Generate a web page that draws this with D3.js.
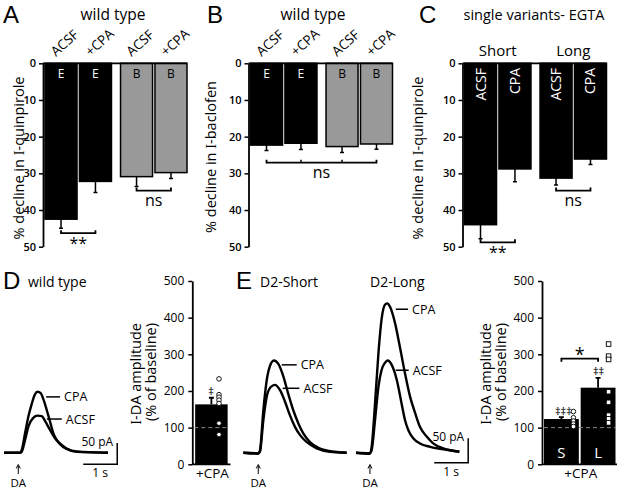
<!DOCTYPE html>
<html>
<head>
<meta charset="utf-8">
<script src="https://cdn.jsdelivr.net/npm/d3@7/dist/d3.min.js"></script>
<style>
body { margin: 0; background: #fff; }
svg { display: block; font-family: "Open Sans", sans-serif; }
</style>
</head>
<body>
<svg id="fig" width="617" height="490"></svg>
<script>
// ---- top row: % decline (A, B, C)
const declineTicks = [0, 10, 20, 30, 40, 50]
const wtLabels = ['ACSF', '+CPA', 'ACSF', '+CPA']
const wtCells = ['E', 'E', 'B', 'B']
const quinpiroleWT = [42.5, 32.2, 30.9, 29.8]
const quinpiroleWTErr = [2.5, 3.0, 2.7, 1.6]
const baclofenWT = [22.3, 21.8, 22.7, 22.0]
const baclofenWTErr = [1.5, 1.7, 1.6, 1.4]
const egtaGroups = ['Short', 'Long']
const egtaLabels = ['ACSF', 'CPA', 'ACSF', 'CPA']
const quinpiroleEGTA = [44.0, 28.8, 31.3, 26.1]
const quinpiroleEGTAErr = [3.8, 3.5, 1.9, 1.5]

// ---- bottom row: I-DA traces, [time s, current pA]
const daOnset = [0.42, 0.44, 0.41]
const wtCPA = [[0, 0], [0.47, 0], [0.52, 6], [0.62, 46], [0.72, 86], [0.81, 113], [0.91, 137], [0.99, 143], [1.08, 140], [1.16, 125], [1.25, 102], [1.35, 74], [1.45, 46], [1.55, 30], [1.70, 16], [1.84, 9], [2.14, 2], [3.06, 0]]
const wtACSF = [[0, 0], [0.47, 0], [0.52, 2], [0.62, 30], [0.72, 62], [0.86, 82], [0.99, 87], [1.11, 86], [1.21, 74], [1.35, 54], [1.50, 34], [1.65, 21], [1.84, 10], [2.14, 3], [3.06, 0]]
const shortCPA = [[0, 0], [0.44, -2], [0.49, 5], [0.59, 87], [0.69, 149], [0.78, 177], [0.90, 189], [1.03, 182], [1.18, 156], [1.32, 121], [1.47, 87], [1.62, 60], [1.76, 40], [1.96, 22], [2.21, 10], [2.55, 3], [3.04, 0]]
const shortACSF = [[0, 0], [0.44, -1], [0.49, 2], [0.59, 67], [0.69, 115], [0.80, 134], [0.93, 139], [1.08, 128], [1.23, 104], [1.37, 77], [1.52, 53], [1.67, 36], [1.86, 22], [2.16, 9], [2.55, 2], [3.04, 0]]
const longCPA = [[0, 0], [0.41, -2], [0.46, 12], [0.56, 101], [0.66, 204], [0.75, 272], [0.85, 303], [0.92, 306], [1.00, 299], [1.15, 265], [1.29, 217], [1.44, 163], [1.59, 115], [1.74, 81], [1.88, 53], [2.08, 33], [2.27, 19], [2.57, 9], [3.04, 2]]
const longACSF = [[0, 0], [0.41, -1], [0.46, 5], [0.56, 67], [0.66, 135], [0.75, 169], [0.85, 184], [0.93, 189], [1.05, 180], [1.20, 149], [1.34, 101], [1.44, 67], [1.54, 46], [1.69, 29], [1.88, 19], [2.18, 12], [2.57, 7], [3.04, 2]]

// ---- bottom row: amplitude bars (% of baseline)
const ampTicks = [0, 100, 200, 300, 400, 500]
const wtAmp = [163.5]
const wtAmpErr = [18]
const wtAmpPts = [233, 190, 183, 175, 166, 112, 81]
const variantNames = ['S', 'L']
const variantAmp = [123.5, 209]
const variantAmpErr = [5, 27]
const shortAmpPts = [144, 127, 118, 110, 103]
const longAmpPts = [328, 295, 286, 198, 169, 134, 124, 113]

const svg = d3.select('#fig')

function txt(g, x, y, s, size, opts = {}) {
	const t = g.append('text')
		.attr('x', x).attr('y', y)
		.attr('font-size', size)
		.attr('text-anchor', opts.anchor || 'start')
		.attr('font-weight', opts.weight || 'normal')
		.attr('fill', opts.fill || '#000')
		.text(s)
	if (opts.family) t.attr('font-family', opts.family)
	return t
}

function styleAxis(ax, size, weight) {
	ax.select('.domain').attr('stroke-width', 1.8)
	ax.selectAll('.tick line').attr('stroke-width', 1.5)
	ax.selectAll('.tick text')
		.attr('font-size', size)
		.attr('font-weight', weight)
		.attr('font-family', '"Open Sans", sans-serif')
}

// y label with a serif "I"
function yLabel(g, x, y, pre, post, size, anchor) {
	const t = g.append('text')
		.attr('transform', `translate(${x},${y}) rotate(-90)`)
		.attr('text-anchor', anchor)
		.attr('font-size', size)
	t.append('tspan').text(pre)
	t.append('tspan').attr('font-family', '"Liberation Serif", serif').text('I')
	t.append('tspan').text(post)
}

function bracket(g, x1, x2, y, up, label, ly, size) {
	const d = up ? -3 : 3
	g.append('path')
		.attr('d', `M${x1},${y + d}V${y}H${x2}V${y + d}`)
		.attr('fill', 'none').attr('stroke', '#000').attr('stroke-width', 1.8)
	txt(g, (x1 + x2) / 2, ly, label, size, { anchor: 'middle' })
}

const yDecline = d3.scaleLinear().domain([0, 50]).range([63.3, 246.7])

function declinePanel(cfg) {
	const { left, values, errs, fills } = cfg
	const g = svg.append('g')
	const group = d3.scaleBand().domain([0, 1]).range([left + 2, left + 144]).paddingInner(0.12)
	const sub = d3.scaleBand().domain([0, 1]).range([0, group.bandwidth()]).paddingInner(0.07)
	const bw = sub.bandwidth()
	const bx = i => group(Math.floor(i / 2)) + sub(i % 2)
	const cx = i => bx(i) + bw / 2

	g.selectAll('rect.bar').data(values).join('rect')
		.attr('class', 'bar')
		.attr('x', (d, i) => bx(i))
		.attr('y', yDecline(0))
		.attr('width', bw)
		.attr('height', d => yDecline(d) - yDecline(0))
		.attr('fill', (d, i) => fills[i])
		.attr('stroke', '#000').attr('stroke-width', 1.5)

	g.selectAll('path.err').data(values).join('path')
		.attr('class', 'err')
		.attr('d', (d, i) => `M${cx(i)},${yDecline(d)}V${yDecline(d + errs[i])}M${cx(i) - 2},${yDecline(d + errs[i])}H${cx(i) + 2}`)
		.attr('stroke', '#000').attr('stroke-width', 1.5)

	g.append('line')
		.attr('x1', left).attr('x2', left + 144)
		.attr('y1', yDecline(0)).attr('y2', yDecline(0))
		.attr('stroke', '#000').attr('stroke-width', 1.8)

	const ax = g.append('g')
		.attr('transform', `translate(${left},0)`)
		.call(d3.axisLeft(yDecline).tickValues(declineTicks).tickSize(4).tickSizeOuter(0).tickPadding(3))
	styleAxis(ax, 11, 600)

	if (cfg.cells) {
		cfg.cells.forEach((c, i) => txt(g, cx(i), 77.5, c, 12, { anchor: 'middle', fill: fills[i] === '#000' ? '#fff' : '#000' }))
	}
	if (cfg.slanted) {
		cfg.slanted.forEach((s, i) => {
			g.append('text')
				.attr('transform', `translate(${cx(i) - 5},57) rotate(-42)`)
				.attr('font-size', 13.5)
				.text(s)
		})
	}
	if (cfg.vertical) {
		cfg.vertical.forEach((s, i) => {
			g.append('text')
				.attr('transform', `translate(${cx(i) + 5},68) rotate(-90)`)
				.attr('text-anchor', 'end')
				.attr('font-size', 14)
				.attr('fill', '#fff')
				.text(s)
		})
	}
	if (cfg.groups) {
		cfg.groups.forEach((s, k) => txt(g, group(k) + group.bandwidth() / 2, 56, s, 15, { anchor: 'middle' }))
	}
	(cfg.brackets || []).forEach(b => {
		const ys = yDecline(b.at)
		const xs = b.bars.map(cx)
		bracket(g, xs[0], xs[xs.length - 1], ys, true, b.label, ys + b.dy, b.size)
		xs.slice(1, -1).forEach(x => g.append('line')
			.attr('x1', x).attr('x2', x).attr('y1', ys - 3).attr('y2', ys)
			.attr('stroke', '#000').attr('stroke-width', 1.5))
	})
	return { g, cx }
}

const letterFont = '"Liberation Sans", Arial, sans-serif'

// A
txt(svg, 3, 22.5, 'A', 24, { family: letterFont })
txt(svg, 113, 19.5, 'wild type', 15.5, { anchor: 'middle' })
declinePanel({
	left: 43, values: quinpiroleWT, errs: quinpiroleWTErr,
	fills: ['#000', '#000', '#999', '#999'], cells: wtCells, slanted: wtLabels,
	brackets: [{ bars: [0, 1], at: 46.3, label: '**', dy: 16, size: 16 },
		{ bars: [2, 3], at: 34.7, label: 'ns', dy: 15, size: 16 }]
})
yLabel(svg, 24, 158, '% decline in ', '-quinpirole', 14.5, 'middle')

// B
txt(svg, 207, 22.5, 'B', 24, { family: letterFont })
txt(svg, 313, 19.5, 'wild type', 15.5, { anchor: 'middle' })
declinePanel({
	left: 248.5, values: baclofenWT, errs: baclofenWTErr,
	fills: ['#000', '#000', '#999', '#999'], cells: wtCells, slanted: wtLabels,
	brackets: [{ bars: [0, 1, 2, 3], at: 27.1, label: 'ns', dy: 15, size: 16 }]
})
yLabel(svg, 216, 157, '% decline in ', '-baclofen', 14.5, 'middle')

// C
txt(svg, 419, 22.5, 'C', 24, { family: letterFont })
txt(svg, 534, 19.5, 'single variants- EGTA', 14.5, { anchor: 'middle' })
declinePanel({
	left: 462.5, values: quinpiroleEGTA, errs: quinpiroleEGTAErr,
	fills: ['#000', '#000', '#000', '#000'], vertical: egtaLabels, groups: egtaGroups,
	brackets: [{ bars: [0, 1], at: 48.8, label: '**', dy: 16, size: 16 },
		{ bars: [2, 3], at: 34.7, label: 'ns', dy: 15, size: 16 }]
})
yLabel(svg, 422.5, 158, '% decline in ', '-quinpirole', 14.5, 'middle')

// ---- traces
function tracePanel(cfg) {
	const g = svg.append('g')
	const x = d3.scaleLinear().domain([0, 1]).range([cfg.left, cfg.left + 34])
	const y = d3.scaleLinear().domain([0, 1]).range([452.7, 452.7 - cfg.pxPerPA])
	const line = d3.line().x(d => x(d[0])).y(d => y(d[1])).curve(d3.curveMonotoneX)
	cfg.traces.forEach(tr => g.append('path')
		.attr('d', line(tr))
		.attr('fill', 'none').attr('stroke', '#000')
		.attr('stroke-width', 2.4).attr('stroke-linejoin', 'round'))
	cfg.labels.forEach(l => {
		g.append('line')
			.attr('x1', x(l.t0)).attr('x2', x(l.t1))
			.attr('y1', y(l.pa)).attr('y2', y(l.pa))
			.attr('stroke', '#000').attr('stroke-width', 1.5)
		txt(g, x(l.t1) + 4, y(l.pa) + 4.5, l.text, 12.5)
	})
	const ax = x(cfg.onset)
	g.append('line').attr('x1', ax).attr('x2', ax).attr('y1', 474).attr('y2', 466)
		.attr('stroke', '#000').attr('stroke-width', 1)
	g.append('path').attr('d', `M${ax - 2},${468.5}L${ax},${464.5}L${ax + 2},${468.5}`)
		.attr('fill', 'none').attr('stroke', '#000').attr('stroke-width', 1)
	txt(g, ax, 486.5, 'DA', 11.5, { anchor: 'middle' })
	if (cfg.scalebar) {
		const s = cfg.scalebar
		g.append('path')
			.attr('d', `M${x(s.t - 1)},${y(s.pa)}H${x(s.t)}V${y(s.pa + 50)}`)
			.attr('fill', 'none').attr('stroke', '#000').attr('stroke-width', 1.5)
		txt(g, x(s.t) - 4, y(s.pa + 50) + 3, '50 pA', 12, { anchor: 'end' })
		txt(g, x(s.t - 0.5), y(s.pa) + 13, '1 s', 12, { anchor: 'middle' })
	}
}

// D
txt(svg, 3, 288.5, 'D', 24, { family: letterFont })
txt(svg, 28, 287, 'wild type', 14)
tracePanel({
	left: 4, pxPerPA: 0.426, traces: [wtACSF, wtCPA], onset: daOnset[0],
	labels: [{ t0: 1.24, t1: 1.65, pa: 131, text: 'CPA' }, { t0: 1.26, t1: 1.70, pa: 79, text: 'ACSF' }],
	scalebar: { t: 3.33, pa: -27 }
})

// E
txt(svg, 236, 288.5, 'E', 24, { family: letterFont })
txt(svg, 260, 287, 'D2-Short', 14)
txt(svg, 370, 287, 'D2-Long', 14)
tracePanel({
	left: 243.3, pxPerPA: 0.488, traces: [shortACSF, shortCPA], onset: daOnset[1],
	labels: [{ t0: 1.13, t1: 1.57, pa: 180, text: 'CPA' }, { t0: 1.16, t1: 1.65, pa: 132, text: 'ACSF' }]
})
tracePanel({
	left: 356, pxPerPA: 0.488, traces: [longACSF, longCPA], onset: daOnset[2],
	labels: [{ t0: 1.17, t1: 1.53, pa: 294, text: 'CPA' }, { t0: 1.17, t1: 1.55, pa: 169, text: 'ACSF' }],
	scalebar: { t: 3.30, pa: -20.5 }
})

// ---- amplitude bar charts
const yAmp = d3.scaleLinear().domain([0, 500]).range([464.3, 281])

function ampPanel(cfg) {
	const g = svg.append('g')
	const x = d3.scaleBand().domain(cfg.names).range([cfg.left + 2, cfg.right]).paddingInner(0.05)
	g.selectAll('rect').data(cfg.values).join('rect')
		.attr('x', (d, i) => x(cfg.names[i]))
		.attr('y', d => yAmp(d))
		.attr('width', x.bandwidth())
		.attr('height', d => yAmp(0) - yAmp(d))
		.attr('fill', '#000')
	g.selectAll('path.err').data(cfg.values).join('path')
		.attr('class', 'err')
		.attr('d', (d, i) => {
			const c = x(cfg.names[i]) + x.bandwidth() / 2
			return `M${c},${yAmp(d)}V${yAmp(d + cfg.errs[i])}M${c - 2.5},${yAmp(d + cfg.errs[i])}H${c + 2.5}`
		})
		.attr('stroke', '#000').attr('stroke-width', 1.8)
	g.append('line')
		.attr('x1', cfg.left + 2).attr('x2', cfg.right)
		.attr('y1', yAmp(100)).attr('y2', yAmp(100))
		.attr('stroke', '#8a8a8a').attr('stroke-width', 1).attr('stroke-dasharray', '4,3')
	g.append('line')
		.attr('x1', cfg.left).attr('x2', cfg.right + 2)
		.attr('y1', yAmp(0)).attr('y2', yAmp(0))
		.attr('stroke', '#000').attr('stroke-width', 1.8)
	const ax = g.append('g')
		.attr('transform', `translate(${cfg.left},0)`)
		.call(d3.axisLeft(yAmp).tickValues(ampTicks).tickSize(4).tickSizeOuter(0).tickPadding(4))
	styleAxis(ax, 12, 'normal')
	txt(g, (cfg.left + cfg.right) / 2 + 2, 478, '+CPA', 13.5, { anchor: 'middle' })
	yLabel(g, cfg.left - 51, 323, '', '-DA amplitude', 14.5, 'end')
	g.append('text')
		.attr('transform', `translate(${cfg.left - 36},323) rotate(-90)`)
		.attr('text-anchor', 'end').attr('font-size', 14.5)
		.text('(% of baseline)')
	return { g, x }
}

function dots(g, xPos, pts, shape) {
	if (shape === 'square') {
		g.selectAll(null).data(pts).join('rect')
			.attr('x', xPos - 2.3).attr('y', d => yAmp(d) - 2.3)
			.attr('width', 4.6).attr('height', 4.6)
			.attr('fill', '#fff').attr('stroke', '#000').attr('stroke-width', 0.9)
	} else {
		g.selectAll(null).data(pts).join('circle')
			.attr('cx', xPos).attr('cy', d => yAmp(d)).attr('r', 2.3)
			.attr('fill', '#fff').attr('stroke', '#000').attr('stroke-width', 0.9)
	}
}

// D bar
const dBar = ampPanel({ left: 192.3, right: 228.5, names: ['+CPA'], values: wtAmp, errs: wtAmpErr })
dots(dBar.g, 219, wtAmpPts, 'circle')
txt(dBar.g, 211, 395, '‡', 11, { anchor: 'middle' })

// E bar
const eBar = ampPanel({ left: 542, right: 615.5, names: variantNames, values: variantAmp, errs: variantAmpErr })
const eCx = n => eBar.x(n) + eBar.x.bandwidth() / 2
variantNames.forEach(n => txt(eBar.g, eCx(n), 458, n, 15, { anchor: 'middle', fill: '#fff' }))
dots(eBar.g, eCx('S') + 12, shortAmpPts, 'circle')
dots(eBar.g, eCx('L') + 10.5, longAmpPts, 'square')
txt(eBar.g, eCx('S') + 2, 415, '‡‡‡', 11, { anchor: 'middle' })
txt(eBar.g, eCx('L') + 0.5, 375, '‡‡', 11, { anchor: 'middle' })
bracket(eBar.g, eCx('S'), eCx('L'), yAmp(288), false, '*', yAmp(288) + 2, 18)
</script>
</body>
</html>
